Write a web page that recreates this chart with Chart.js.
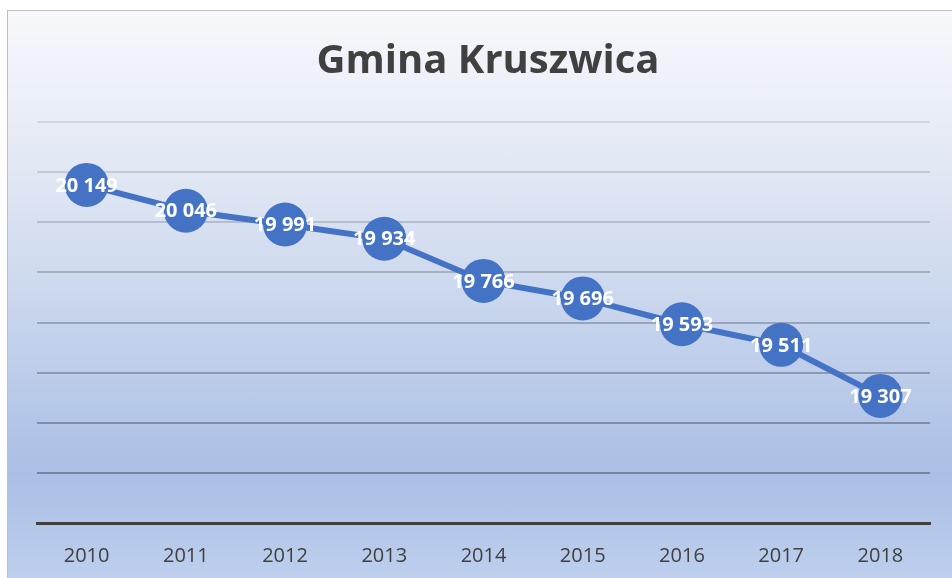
<!DOCTYPE html>
<html>
<head>
<meta charset="utf-8">
<script src="https://cdn.jsdelivr.net/npm/chart.js@4/dist/chart.umd.min.js"></script>
<style>
  html, body { margin: 0; padding: 0; background: #fff; }
  #frame {
    position: absolute; left: 7px; top: 10px; width: 960px; height: 580px;
    border: 1px solid #bfbfbf;
    background: linear-gradient(to bottom, #f7f8fc 0%, #dfe6f3 30%, #aabfe5 80%, #c0d1ee 100%);
  }
  #wrap { position: absolute; left: 0; top: 0; width: 952px; height: 578px; }
</style>
</head>
<body>
<div id="frame"></div>
<div id="wrap"><canvas id="myChart" width="952" height="578"></canvas></div>
<script>
var years = ["2010","2011","2012","2013","2014","2015","2016","2017","2018"];
var population = [20149, 20046, 19991, 19934, 19766, 19696, 19593, 19511, 19307];
var yMin = 18800, yMax = 20400, yStep = 200;

var blue = "#4472C4";

function fmt(v){
  return String(v).replace(/\B(?=(\d{3})+(?!\d))/g, " ");
}

// value labels inside the markers
var labelPlugin = {
  id: "labels",
  afterDatasetsDraw: function(chart){
    var ctx = chart.ctx;
    var meta = chart.getDatasetMeta(0);
    ctx.save();
    ctx.fillStyle = "#ffffff";
    ctx.font = "bold 20px 'Open Sans'";
    ctx.textAlign = "center";
    ctx.textBaseline = "middle";
    meta.data.forEach(function(p, i){
      ctx.fillText(fmt(population[i]), p.x, p.y + 1);
    });
    ctx.restore();
  }
};

var ctx = document.getElementById('myChart').getContext('2d');
var myChart = new Chart(ctx, {
  type: 'line',
  data: {
    labels: years,
    datasets: [{
      data: population,
      borderColor: blue,
      backgroundColor: blue,
      borderWidth: 6,
      pointRadius: 22,
      pointHoverRadius: 22,
      pointBackgroundColor: blue,
      pointBorderWidth: 0,
      fill: false,
      tension: 0
    }]
  },
  options: {
    responsive: false,
    animation: false,
    events: [],
    layout: { padding: { left: 37, right: 13, top: 0, bottom: 0 } },
    plugins: {
      legend: { display: false },
      tooltip: { enabled: false },
      title: {
        display: true,
        text: "Gmina Kruszwica",
        color: "#404040",
        font: { family: "'Open Sans'", size: 40, weight: "bold" },
        padding: { top: 38, bottom: 36 }
      }
    },
    scales: {
      x: {
        offset: true,
        grid: { display: false, drawTicks: false },
        border: { display: true, color: "#404040", width: 3 },
        ticks: {
          color: "#404040",
          font: { family: "'Open Sans'", size: 20 },
          padding: 21
        },
        afterFit: function(axis){ axis.height = 55; }
      },
      y: {
        min: yMin,
        max: yMax,
        ticks: { display: false, stepSize: yStep },
        border: { display: false },
        grid: {
          drawTicks: false,
          lineWidth: 2,
          color: function(c){
            if (c.tick.value === yMin) return "rgba(0,0,0,0)";
            var t = (yMax - c.tick.value) / (yMax - yMin);
            var a = 0.12 + 0.4 * t;
            return "rgba(55,65,85," + a.toFixed(3) + ")";
          }
        }
      }
    }
  },
  plugins: [labelPlugin]
});
</script>
</body>
</html>
